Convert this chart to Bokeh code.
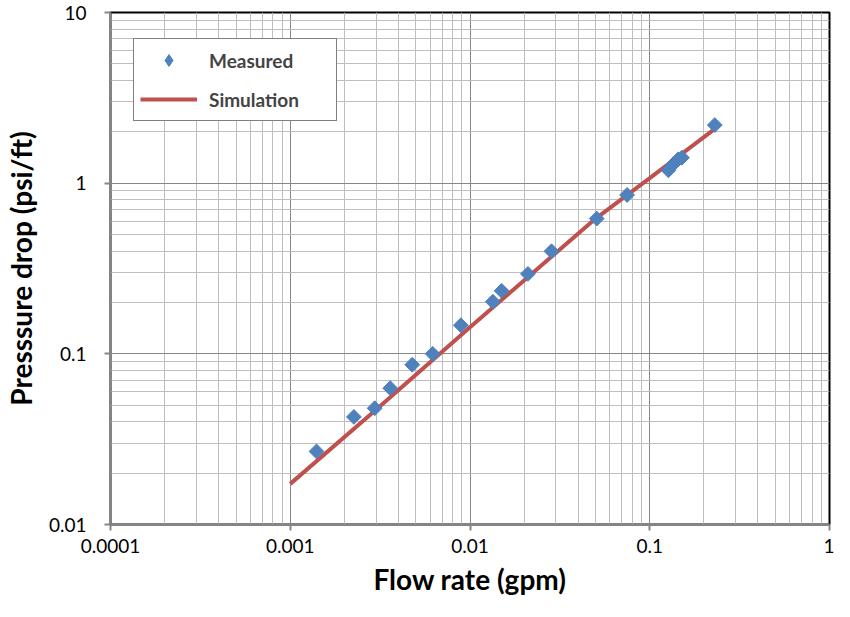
from bokeh.plotting import figure
from bokeh.models import (Range1d, FixedTicker, CustomJSTickFormatter, Legend, LegendItem,
                          ColumnDataSource)
from bokeh.embed import file_html
from bokeh.resources import INLINE
import math

# ---- data ----
measured_flow = [0.00140, 0.00226, 0.00295, 0.0036, 0.00477, 0.0062, 0.0089, 0.0134, 0.0150,
                 0.0210, 0.0284, 0.0507, 0.0748, 0.127, 0.135, 0.144, 0.151, 0.230]
measured_dp = [0.0268, 0.0427, 0.048, 0.0629, 0.0863, 0.100, 0.147, 0.202, 0.234,
               0.294, 0.399, 0.62, 0.853, 1.19, 1.29, 1.38, 1.41, 2.19]

sim_flow = [0.001, 0.003, 0.01, 0.03, 0.05, 0.1, 0.23]
sim_dp = [0.0173, 0.047, 0.143, 0.39, 0.62, 1.07, 2.08]

x_ticks = [0.0001, 0.001, 0.01, 0.1, 1]
x_labels = ["0.0001", "0.001", "0.01", "0.1", "1"]
y_ticks = [0.01, 0.1, 1, 10]
y_labels = ["0.01", "0.1", "1", "10"]

FONT = "Lato"
BLUE = "#4F81BD"
RED = "#C0504D"

p = figure(width=834, height=601, x_axis_type="log", y_axis_type="log",
           x_range=Range1d(0.0001, 1), y_range=Range1d(0.01, 10),
           output_backend="svg", toolbar_location=None,
           min_border_left=108, min_border_right=5, min_border_top=12, min_border_bottom=77)

p.background_fill_color = "white"
p.border_fill_color = "white"
p.outline_line_color = "black"
p.outline_line_width = 2

def minor_of(ticks):
    out = []
    for t in ticks[:-1]:
        out += [t * m for m in range(2, 10)]
    return out

p.xaxis.ticker = FixedTicker(ticks=x_ticks, minor_ticks=minor_of(x_ticks))
p.yaxis.ticker = FixedTicker(ticks=y_ticks, minor_ticks=minor_of(y_ticks))

fmt_code = """
let best = 0; let bd = Infinity;
for (let i = 0; i < vals.length; i++) {
  const d = Math.abs(Math.log10(vals[i]) - Math.log10(tick));
  if (d < bd) { bd = d; best = i; }
}
return labs[best];
"""
p.xaxis.formatter = CustomJSTickFormatter(args=dict(vals=x_ticks, labs=x_labels), code=fmt_code)
p.yaxis.formatter = CustomJSTickFormatter(args=dict(vals=y_ticks, labs=y_labels), code=fmt_code)

for ax in (p.xaxis[0], p.yaxis[0]):
    ax.axis_line_color = "#868686"
    ax.axis_line_width = 2
    ax.major_tick_line_color = "#868686"
    ax.major_tick_line_width = 2
    ax.major_tick_in = 0
    ax.major_tick_out = 6
    ax.minor_tick_in = 0
    ax.minor_tick_out = 0
    ax.major_label_text_font = FONT
    ax.major_label_text_font_size = "19px"
    ax.major_label_text_color = "black"
    ax.axis_label_text_font = FONT
    ax.axis_label_text_font_style = "bold"
    ax.axis_label_text_font_size = "28px"
    ax.axis_label_text_color = "black"

p.xaxis.axis_label = "Flow rate (gpm)"
p.yaxis.axis_label = "Presssure drop (psi/ft)"
p.xaxis.major_label_standoff = 8
p.xaxis.axis_label_standoff = 6
p.yaxis.major_label_standoff = 18
p.yaxis.axis_label_standoff = 8

for g in (p.xgrid[0], p.ygrid[0]):
    g.grid_line_color = "#868686"
    g.grid_line_width = 1
    g.minor_grid_line_color = "#bdbdbd"
    g.minor_grid_line_width = 1

sim_src = ColumnDataSource(dict(x=sim_flow, y=sim_dp))
meas_src = ColumnDataSource(dict(x=measured_flow, y=measured_dp))

r_line = p.line("x", "y", source=sim_src, line_color=RED, line_width=4)
# narrow diamond layer (used for the legend swatch), fully covered by the rotated squares
r_swatch = p.scatter("x", "y", source=meas_src, marker="diamond", size=11,
                     fill_color=BLUE, line_color=BLUE)
r_pts = p.scatter("x", "y", source=meas_src, marker="square", size=10.5, angle=math.pi / 4,
                  fill_color=BLUE, line_color=BLUE)

legend = Legend(items=[LegendItem(label="Measured", renderers=[r_swatch]),
                       LegendItem(label="Simulation", renderers=[r_line])],
                location=(23, 403), orientation="vertical")
legend.border_line_color = "black"
legend.border_line_width = 1.5
legend.background_fill_color = "white"
legend.background_fill_alpha = 1
legend.padding = 6
legend.spacing = 9
legend.margin = 0
legend.glyph_width = 57
legend.glyph_height = 30
legend.label_height = 30
legend.label_width = 121
legend.label_standoff = 12
legend.label_text_font = FONT
legend.label_text_font_style = "bold"
legend.label_text_font_size = "19px"
p.add_layout(legend, "center")

open("out.html", "w").write(file_html(p, INLINE))
